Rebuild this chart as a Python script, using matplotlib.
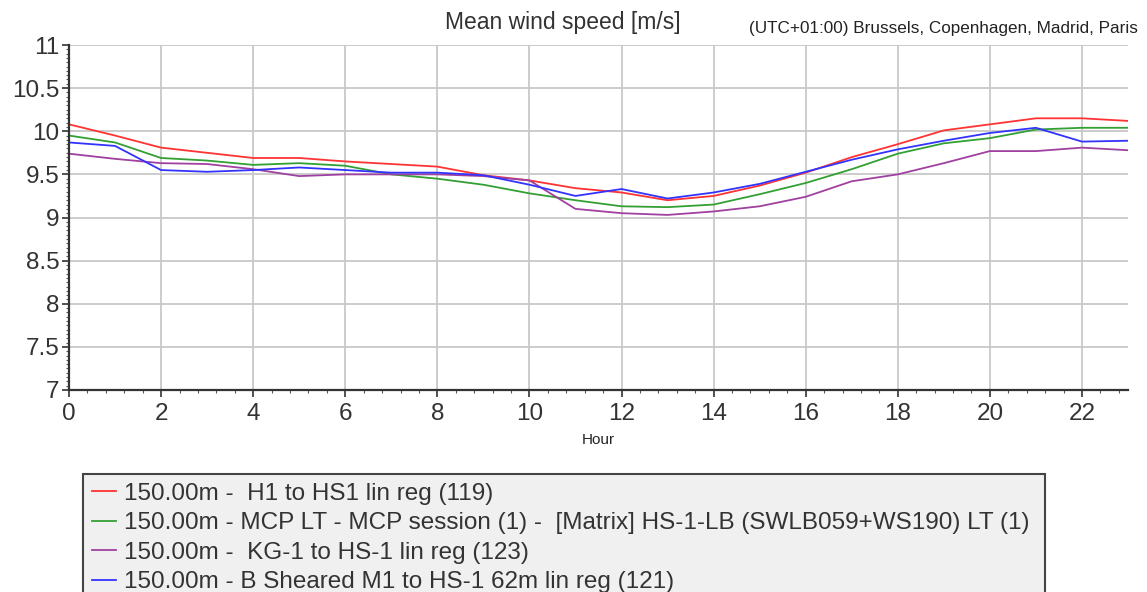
import numpy as np
import matplotlib
matplotlib.use('Agg')
import matplotlib.pyplot as plt
from matplotlib.ticker import MultipleLocator

plt.rcParams['font.family'] = ['Liberation Sans', 'DejaVu Sans']

hours = list(range(24))

red = [10.08, 9.95, 9.81, 9.75, 9.69, 9.69, 9.65, 9.62, 9.59, 9.49, 9.43, 9.34,
       9.29, 9.20, 9.25, 9.37, 9.52, 9.70, 9.85, 10.01, 10.08, 10.15, 10.15, 10.12]
green = [9.95, 9.87, 9.69, 9.66, 9.61, 9.63, 9.60, 9.50, 9.45, 9.38, 9.28, 9.20,
         9.13, 9.12, 9.15, 9.27, 9.40, 9.56, 9.74, 9.86, 9.92, 10.02, 10.04, 10.04]
purple = [9.74, 9.68, 9.63, 9.62, 9.56, 9.48, 9.50, 9.50, 9.50, 9.48, 9.43, 9.10,
          9.05, 9.03, 9.07, 9.13, 9.24, 9.42, 9.50, 9.63, 9.77, 9.77, 9.81, 9.78]
blue = [9.87, 9.83, 9.55, 9.53, 9.55, 9.58, 9.55, 9.52, 9.52, 9.49, 9.38, 9.25,
        9.33, 9.22, 9.29, 9.39, 9.53, 9.67, 9.79, 9.89, 9.98, 10.04, 9.88, 9.89]

labels = [
    '150.00m -  H1 to HS1 lin reg (119)',
    '150.00m - MCP LT - MCP session (1) -  [Matrix] HS-1-LB (SWLB059+WS190) LT (1)',
    '150.00m -  KG-1 to HS-1 lin reg (123)',
    '150.00m - B Sheared M1 to HS-1 62m lin reg (121)',
]
series = [red, green, purple, blue]
colors = ['#ff3333', '#33a033', '#a040a0', '#3333ff']

W, H = 1147, 592
fig = plt.figure(figsize=(W / 100, H / 100), dpi=100)
ax = fig.add_axes([69 / W, 1 - 390 / H, (1128 - 69) / W, (390 - 45) / H])

handles = []
for vals, c, lab in zip(series, colors, labels):
    ln, = ax.plot(hours, vals, color=c, lw=1.3, label=lab)
    handles.append(ln)

ax.set_xlim(0, 23)
ax.set_ylim(7, 11)
ax.xaxis.set_major_locator(MultipleLocator(2))
ax.xaxis.set_minor_locator(MultipleLocator(0.4))
ax.yaxis.set_minor_locator(MultipleLocator(0.05))
ax.set_yticks(np.arange(7, 11.01, 0.5))
ax.set_yticklabels(['7', '7.5', '8', '8.5', '9', '9.5', '10', '10.5', '11'])

ax.grid(True, which='major', color='#c8c8c8', lw=1.3)
for sp in ['top', 'right']:
    ax.spines[sp].set_visible(False)
for sp in ['left', 'bottom']:
    ax.spines[sp].set_color('#333333')
    ax.spines[sp].set_linewidth(1.6)

ax.tick_params(which='major', direction='out', length=5, width=1.2, color='#333333',
               labelsize=17.5, labelcolor='#333333')
ax.tick_params(axis='y', which='major', pad=2)
ax.tick_params(axis='x', which='major', pad=4)
ax.tick_params(which='minor', direction='out', length=2.5, width=0.8, color='#555555')

ax.set_xlabel('Hour', fontsize=11, color='#222222')
ax.xaxis.set_label_coords(0.5, -0.145)
ax.xaxis.label.set_va('center')

fig.text(563 / W, 1 - 22 / H, 'Mean wind speed [m/s]', ha='center', va='center',
         fontsize=16.5, color='#333333')
fig.text(1138 / W, 1 - 28 / H, '(UTC+01:00) Brussels, Copenhagen, Madrid, Paris',
         ha='right', va='center', fontsize=12.3, color='#222222')

leg = fig.legend(handles, labels, loc='upper left',
                 bbox_to_anchor=(83 / W, 1 - 474 / H, (1045 - 83) / W, 0),
                 mode='expand', borderaxespad=0, fontsize=17.5, frameon=True,
                 fancybox=False, edgecolor='#444444', facecolor='#f0f0f0',
                 framealpha=1, borderpad=0.35, labelspacing=0.31,
                 handlelength=1.0, handletextpad=0.35)
leg.get_frame().set_linewidth(1.5)
for t in leg.get_texts():
    t.set_color('#333333')

fig.savefig('out.png', dpi=100)
